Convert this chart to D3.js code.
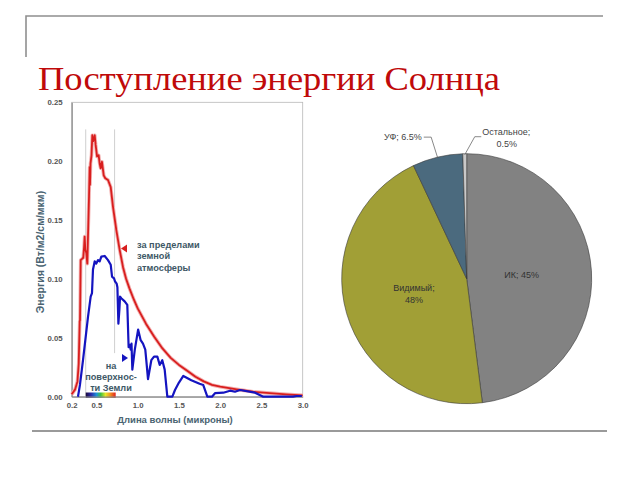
<!DOCTYPE html>
<html><head><meta charset="utf-8">
<script src="https://cdn.jsdelivr.net/npm/d3@7"></script>
<style>body{margin:0;background:#fff}svg{display:block}</style>
</head><body>
<svg id="c" width="640" height="480"></svg>
<script>
// ---- data ----
const titleText = "Поступление энергии Солнца";
const redWavelength = [0.2,0.24,0.27,0.285,0.297,0.301,0.309,0.325,0.34,0.35,0.357,0.365,0.377,0.389,0.41,0.418,0.422,0.428,0.44,0.45,0.46,0.47,0.479,0.49,0.507,0.527,0.539,0.551,0.567,0.588,0.607,0.64,0.673,0.701,0.741,0.782,0.822,0.86,0.9,0.95,1.0,1.1,1.2,1.3,1.4,1.5,1.6,1.7,1.8,1.9,2.0,2.2,2.4,2.6,2.8,3.0];
const redEnergy = [0.002,0.006,0.013,0.028,0.064,0.065,0.116,0.117,0.118,0.127,0.136,0.125,0.122,0.113,0.17,0.195,0.18,0.198,0.205,0.222,0.217,0.219,0.222,0.214,0.204,0.205,0.198,0.194,0.1995,0.188,0.1855,0.184,0.178,0.161,0.1415,0.1245,0.110,0.100,0.092,0.083,0.075,0.062,0.051,0.041,0.033,0.027,0.022,0.017,0.013,0.010,0.0085,0.0062,0.0042,0.003,0.002,0.0012];
const blueWavelength = [0.276,0.3,0.337,0.398,0.43,0.446,0.458,0.479,0.498,0.519,0.539,0.559,0.6,0.64,0.673,0.689,0.713,0.725,0.745,0.754,0.766,0.778,0.786,0.801,0.842,0.874,0.89,0.905,0.915,0.925,0.935,0.965,1.005,1.036,1.064,1.092,1.104,1.125,1.165,1.198,1.238,1.267,1.298,1.327,1.359,1.42,1.452,1.5,1.553,1.65,1.75,1.795,1.844,1.9,1.937,2.038,2.119,2.179,2.24,2.422,2.522,2.882,2.927,2.99];
const blueEnergy = [0,0.01,0.031,0.068,0.085,0.088,0.108,0.115,0.113,0.116,0.115,0.119,0.1195,0.116,0.112,0.102,0.1005,0.098,0.096,0.093,0.062,0.074,0.085,0.0836,0.081,0.078,0.042,0.044,0.040,0.045,0.023,0.040,0.057,0.048,0.045,0.040,0.031,0.015,0.031,0.034,0.034,0.027,0.031,0.023,0,0,0.0057,0.012,0.0176,0.014,0.011,0.0099,0,0,0.003,0.0034,0.0051,0.0042,0.0057,0.0034,0,0,0.0006,0.0006];
const xTicks = [0.2,0.5,1.0,1.5,2.0,2.5,3.0];
const yTicks = [0,0.05,0.10,0.15,0.20,0.25];
const visibleBand = [0.37, 0.72];
const xTitle = "Длина волны (микроны)";
const yTitle = "Энергия (Вт/м2/см/мкм)";
const redNote = ["за пределами","земной","атмосферы"];
const blueNote = ["на","поверхнос-","ти Земли"];

const pieCategories = ["ИК","Видимый","УФ","Остальное"];
const pieValues = [48, 45, 6.5, 0.5];           // slice sizes as drawn
const pieLabelTexts = [["ИК; 45%"],["Видимый;","48%"],["УФ; 6.5%"],["Остальное;","0.5%"]]; // labels as printed
const pieColors = ["#828282","#a19f36","#4b6a7e","#c9c9c9"];

// ---- drawing ----
const svg = d3.select("#c");

// slide frame
svg.append("path").attr("d","M26,57 V16 H603").attr("fill","none").attr("stroke","#8f8f8f").attr("stroke-width",1.6);
svg.append("line").attr("x1",32).attr("x2",607).attr("y1",431).attr("y2",431).attr("stroke","#9a9a9a").attr("stroke-width",2);

svg.append("text").attr("x",38).attr("y",90).text(titleText)
  .attr("font-family","'Liberation Serif','DejaVu Serif',serif").attr("font-size",34)
  .attr("fill","#c00a0a").attr("textLength",462).attr("lengthAdjust","spacingAndGlyphs");

// line chart
const x = d3.scaleLinear().domain([0.2,3.0]).range([71.7,302.7]);
const y = d3.scaleLinear().domain([0,0.25]).range([396.7,102.3]);
const g = svg.append("g");

g.append("rect").attr("x",x(0.2)).attr("y",y(0.25)).attr("width",x(3)-x(0.2)).attr("height",y(0)-y(0.25))
  .attr("fill","none").attr("stroke","#b8b8b8").attr("stroke-width",0.8);

// visible band guides
g.append("line").attr("x1",x(visibleBand[0])).attr("x2",x(visibleBand[0])).attr("y1",y(0.227)).attr("y2",y(0))
  .attr("stroke","#cfcfcf").attr("stroke-width",1);
g.append("line").attr("x1",x(visibleBand[1])).attr("x2",x(visibleBand[1])).attr("y1",y(0.227)).attr("y2",y(0.037))
  .attr("stroke","#cfcfcf").attr("stroke-width",1);

// spectrum bar
const defs = svg.append("defs");
const grad = defs.append("linearGradient").attr("id","spec");
[["0","#1c0a3c"],["0.18","#2a2aa8"],["0.36","#1e90d8"],["0.5","#3cc040"],["0.66","#e6e628"],["0.82","#f09020"],["1","#e02020"]]
 .forEach(s=>grad.append("stop").attr("offset",s[0]).attr("stop-color",s[1]));
g.append("rect").attr("x",x(visibleBand[0])).attr("y",392.5).attr("width",x(0.733)-x(visibleBand[0])).attr("height",5.5).attr("fill","url(#spec)");

// axes
const ax = g.append("g").attr("transform",`translate(0,${y(0)})`)
  .call(d3.axisBottom(x).tickValues(xTicks).tickFormat(d3.format(".1f")).tickSize(0).tickPadding(6));
const ay = g.append("g").attr("transform",`translate(${x(0.2)},0)`)
  .call(d3.axisLeft(y).tickValues(yTicks).tickFormat(d3.format(".2f")).tickSize(0).tickPadding(9));
[ax,ay].forEach(a=>{
  a.select(".domain").attr("stroke","#8a8a8a").attr("stroke-width",1.2);
  a.selectAll("text").attr("font-family","'Liberation Sans',Arial,sans-serif").attr("font-size",7.8)
   .attr("font-weight","bold").attr("fill","#555");
});

const redLine = d3.line().x((d,i)=>x(redWavelength[i])).y(d=>y(d));
const blueLine = d3.line().x((d,i)=>x(blueWavelength[i])).y(d=>y(d));
g.append("path").attr("d",redLine(redEnergy)).attr("fill","none").attr("stroke","#f3b0b0").attr("stroke-width",3.6).attr("stroke-linejoin","round");
g.append("path").attr("d",redLine(redEnergy)).attr("fill","none").attr("stroke","#d81e1e").attr("stroke-width",1.8).attr("stroke-linejoin","round");
g.append("path").attr("d",blueLine(blueEnergy)).attr("fill","none").attr("stroke","#1414c0").attr("stroke-width",2.2).attr("stroke-linejoin","round");

// titles
const labFont = "'Liberation Sans',Arial,sans-serif";
g.append("text").attr("x",175).attr("y",423).attr("text-anchor","middle").text(xTitle)
  .attr("font-family",labFont).attr("font-size",9.5).attr("font-weight","bold").attr("fill","#4a6472");
g.append("text").attr("transform","translate(44,252) rotate(-90)").attr("text-anchor","middle").text(yTitle)
  .attr("font-family",labFont).attr("font-size",10.5).attr("font-weight","bold").attr("fill","#4a6472");

// annotations
redNote.forEach((t,i)=>g.append("text").attr("x",137).attr("y",248+i*11.3).text(t)
  .attr("font-family",labFont).attr("font-size",9.2).attr("font-weight","bold").attr("fill","#3e5866"));
blueNote.forEach((t,i)=>g.append("text").attr("x",111).attr("y",369+i*11).attr("text-anchor","middle").text(t)
  .attr("font-family",labFont).attr("font-size",9.2).attr("font-weight","bold").attr("fill","#3e5866"));
g.append("path").attr("d","M121,248.5 L127,244.5 L127,252.5 Z").attr("fill","#d81e1e");
g.append("path").attr("d","M128,358 L122,354 L122,362 Z").attr("fill","#1414c0");

// pie chart
const cx = 466.7, cy = 278.7, R = 125;
const pie = d3.pie().sort(null).value(d=>d)(pieValues);
const arc = d3.arc().innerRadius(0).outerRadius(R);
const pg = svg.append("g").attr("transform",`translate(${cx},${cy})`);
pg.selectAll("path.s").data(pie).join("path").attr("class","s").attr("d",arc)
  .attr("fill",(d,i)=>pieColors[i]).attr("stroke","#3a3a3a").attr("stroke-width",0.6);

const pf = "'Liberation Sans',Arial,sans-serif";
const inner = d3.arc().innerRadius(55).outerRadius(55);
[0,1].forEach(i=>{
  const [px,py] = inner.centroid(pie[i]);
  const lines = pieLabelTexts[i];
  lines.forEach((t,j)=>pg.append("text").attr("x",px).attr("y",py+3.2+(j-(lines.length-1)/2)*11.6)
    .attr("text-anchor","middle").text(t).attr("font-family",pf).attr("font-size",9).attr("fill","#333"));
});
const edge = d3.arc().innerRadius(R-1).outerRadius(R-1);
// УФ label
{
  const [px,py] = edge.centroid(pie[2]);
  pg.append("polyline").attr("points",`${px},${py} ${px-6.6},${py-21} ${px-14},${py-21}`)
    .attr("fill","none").attr("stroke","#555").attr("stroke-width",0.7);
  pg.append("text").attr("x",px-16).attr("y",py-18).attr("text-anchor","end").text(pieLabelTexts[2][0])
    .attr("font-family",pf).attr("font-size",9).attr("fill","#444");
}
// Остальное label
{
  const [px,py] = edge.centroid(pie[3]);
  pg.append("polyline").attr("points",`${px},${py} ${px+10},${py-18} ${px+16.5},${py-18}`)
    .attr("fill","none").attr("stroke","#555").attr("stroke-width",0.7);
  pg.append("text").attr("x",px+17.5).attr("y",py-20).text(pieLabelTexts[3][0])
    .attr("font-family",pf).attr("font-size",9).attr("fill","#444");
  pg.append("text").attr("x",px+42).attr("y",py-8).attr("text-anchor","middle").text(pieLabelTexts[3][1])
    .attr("font-family",pf).attr("font-size",9).attr("fill","#444");
}
</script>
</body></html>
